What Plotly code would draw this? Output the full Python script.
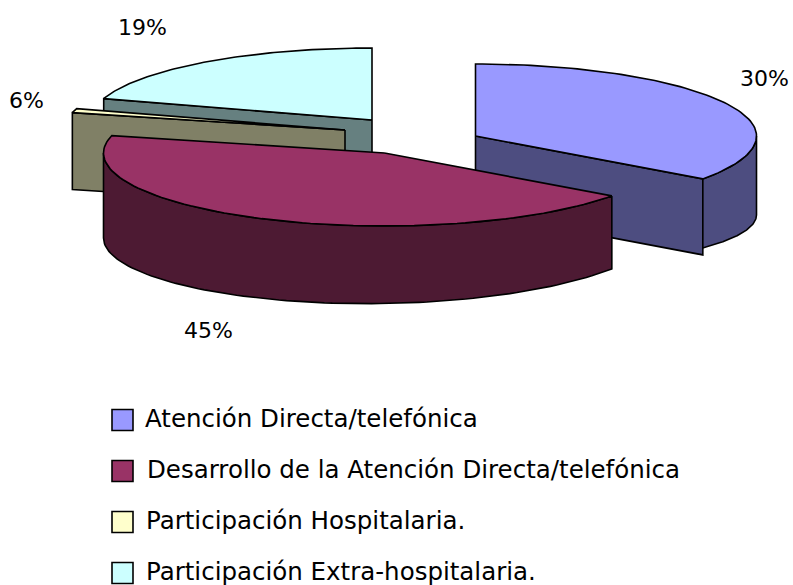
import numpy as np
import plotly.graph_objects as go

# ---- data ----
categories = ["Atención Directa/telefónica",
              "Desarrollo de la Atención Directa/telefónica",
              "Participación Hospitalaria.",
              "Participación Extra-hospitalaria."]
values = [30, 45, 6, 19]

# ---- style ----
top_colors = ["#9999FF", "#993366", "#FFFFCC", "#CCFFFF"]
side_colors = ["#4D4D80", "#4D1A33", "#808066", "#668080"]

# ---- 3D pie projection (pixel space of a 793x585 page) ----
W, H = 793, 585
RX, RY_BACK, RY_FRONT = 281.0, 72.0, 73.0
PIE_CENTER = (400.0, 135.0)
EXPLODE = [(75.5, 1.0), (-15.5, 18.0), (-55.0, -5.0), (-28.0, -15.0)]
FACE_DEPTH = [76, 82, 77, 77]
RIM_DEPTH = [(79, 69), (73, 85), (77, 77), (77, 77)]  # at start / end of the visible rim
# perspective skews the true pie angles on screen
WARP_IN = [0, 108, 270, 291.6, 360]
WARP_OUT = [0, 126, 284, 287.3, 360]
FONT = "DejaVu Sans"
LABEL_SIZE = 22
LEGEND_SIZE = 24.5


def warp(a):
    return np.interp(a, WARP_IN, WARP_OUT)


def project(theta_deg):
    t = np.radians(theta_deg)
    c = np.cos(t)
    ry = np.where(c >= 0, RY_BACK, RY_FRONT)
    return RX * np.sin(t), -ry * c


def poly(xs, ys, fill):
    return go.Scatter(x=xs, y=ys, mode="lines", fill="toself", fillcolor=fill,
                      line=dict(color="black", width=1.6), hoverinfo="skip",
                      showlegend=False)


cum = np.concatenate([[0], np.cumsum(values)]) * 3.6
fig = go.Figure()

for i in [3, 2, 0, 1]:  # back to front
    a0, a1 = warp(cum[i]), warp(cum[i + 1])
    cx, cy = PIE_CENTER[0] + EXPLODE[i][0], PIE_CENTER[1] + EXPLODE[i][1]
    th = np.linspace(a0, a1, 90)
    rx, ry = project(th)
    px, py = cx + rx, cy + ry
    # cut face: the one facing the viewer
    if i == 0:
        ex, ey = px[-1], py[-1]
    else:
        ex, ey = px[0], py[0]
    if i != 1:
        d = FACE_DEPTH[i]
        fig.add_trace(poly([cx, ex, ex, cx, cx], [cy, ey, ey + d, cy + d, cy], side_colors[i]))
    # outer rim, only where it faces the viewer (silhouette ends at 90 and 270 degrees)
    lo, hi = max(a0, 90), min(a1, 270)
    if hi > lo:
        ta = np.linspace(lo, hi, 90)
        ax, ay = project(ta)
        ax, ay = cx + ax, cy + ay
        d = np.linspace(RIM_DEPTH[i][0], RIM_DEPTH[i][1], 90)
        fig.add_trace(poly(np.r_[ax, ax[::-1], ax[0]],
                           np.r_[ay, (ay + d)[::-1], ay[0]], side_colors[i]))
    # top
    fig.add_trace(poly(np.r_[cx, px, cx], np.r_[cy, py, cy], top_colors[i]))

# percentage labels
label_pos = [(764, 78), (208, 330), (26, 100), (142, 27)]
for v, (lx, ly) in zip(values, label_pos):
    fig.add_annotation(x=lx, y=ly, text=f"{v}%", showarrow=False, xanchor="center", yanchor="middle",
                       font=dict(family=FONT, size=LABEL_SIZE, color="black"))

# legend
leg_y = [420, 471, 522, 573]
leg_tx = [143, 145, 144, 144]
fig.add_trace(go.Scatter(x=[122.5] * 4, y=leg_y, mode="markers", hoverinfo="skip", showlegend=False,
                         marker=dict(symbol="square", size=21, color=top_colors,
                                     line=dict(color="black", width=1.6))))
for name, y, tx in zip(categories, leg_y, leg_tx):
    fig.add_annotation(x=tx, y=y - 2, text=name, showarrow=False, xanchor="left", yanchor="middle",
                       font=dict(family=FONT, size=LEGEND_SIZE, color="black"))

fig.update_layout(width=W, height=H, margin=dict(l=0, r=0, t=0, b=0),
                  paper_bgcolor="white", plot_bgcolor="white", showlegend=False,
                  xaxis=dict(range=[0, W], visible=False, fixedrange=True),
                  yaxis=dict(range=[H, 0], visible=False, fixedrange=True))
fig.write_html("out.html", config=dict(displayModeBar=False),
               post_script="document.body.style.margin='0';document.body.style.overflow='hidden';")
